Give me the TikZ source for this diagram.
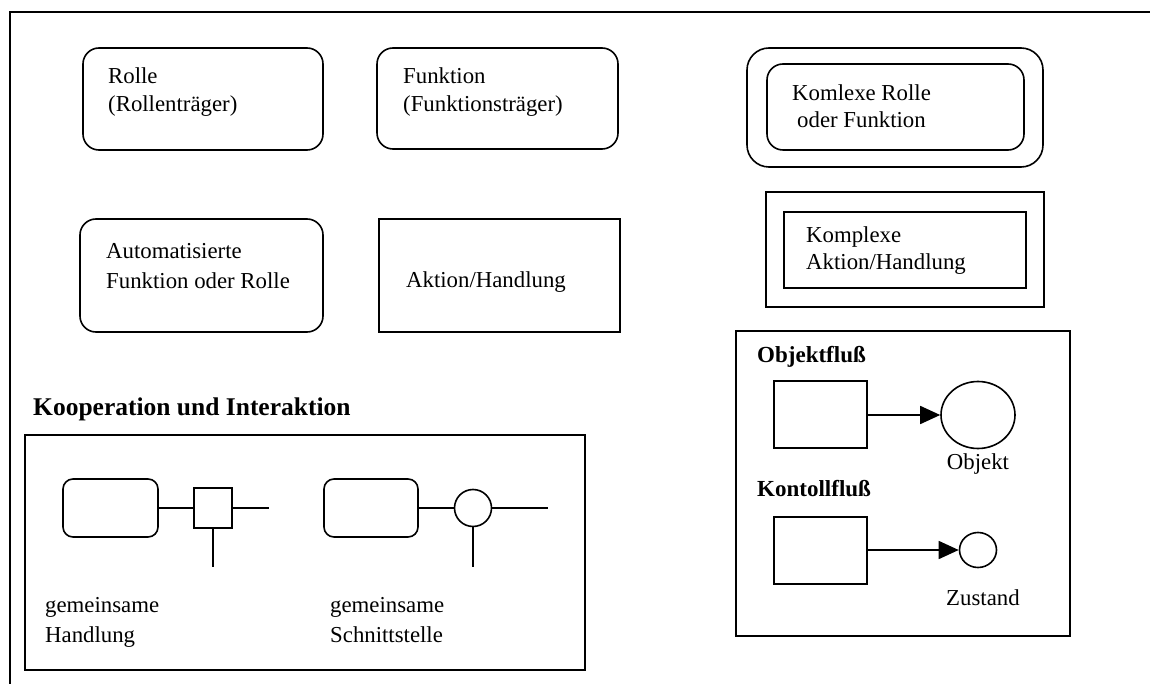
\documentclass[tikz,border=0pt]{standalone}
\usepackage{fontspec}
\setmainfont{Liberation Serif}
\usetikzlibrary{arrows.meta,shapes.geometric}
\tikzset{
  rbox/.style={draw, line width=1.6pt, rounded corners=16pt, inner sep=0pt},
  sbox/.style={draw, line width=1.6pt, inner sep=0pt},
  txt/.style={inner sep=0pt, anchor=base west, font=\fontsize{22.8}{28}\selectfont},
  hd/.style={inner sep=0pt, anchor=base west, font=\bfseries\fontsize{23}{28}\selectfont},
  conn/.style={line width=1.6pt},
  flow/.style={line width=1.6pt, -{Triangle[length=20pt,width=18pt]}},
  frame/.style={line width=1.8pt},
}
\begin{document}
\begin{tikzpicture}[x=1pt,y=-1pt]
\useasboundingbox (0,0) rectangle (1150,684);
% outer frame (top and left edges)
\draw[frame] (10,684) -- (10,12) -- (1150,12);

% first row
\node[rbox, minimum width=240pt, minimum height=102pt] (rolle) at (203,99) {};
\node[txt] (rolleA) at (108,84) {Rolle};
\node[txt] (rolleB) at (108,112) {(Rollenträger)};

\node[rbox, minimum width=241pt, minimum height=101pt] (funktion) at (497.5,98.5) {};
\node[txt] (funkA) at (403,84) {Funktion};
\node[txt] (funkB) at (403,112) {(Funktionsträger)};

\node[rbox, rounded corners=22pt, minimum width=296pt, minimum height=119pt] (krOuter) at (895,107.5) {};
\node[rbox, rounded corners=16pt, minimum width=257pt, minimum height=86pt] (krInner) at (895.5,107) {};
\node[txt] (krA) at (792,101) {Komlexe Rolle};
\node[txt] (krB) at (797,128) {oder Funktion};

% second row
\node[rbox, minimum width=243pt, minimum height=113pt] (auto) at (201.5,275.5) {};
\node[txt] (autoA) at (106,259) {Automatisierte};
\node[txt] (autoB) at (106,289) {Funktion oder Rolle};

\node[sbox, minimum width=241pt, minimum height=113pt] (aktion) at (499.5,275.5) {};
\node[txt] (aktionA) at (406,288) {Aktion/Handlung};

\node[sbox, minimum width=278pt, minimum height=115pt] (kaOuter) at (905,249.5) {};
\node[sbox, minimum width=242pt, minimum height=76pt] (kaInner) at (905,250) {};
\node[txt] (kaA) at (806,243) {Komplexe};
\node[txt] (kaB) at (806,270) {Aktion/Handlung};

% Kooperation und Interaktion
\node[hd, font=\bfseries\fontsize{25.5}{30}\selectfont] (koopHd) at (33,415) {Kooperation und Interaktion};
\node[sbox, minimum width=560pt, minimum height=235pt] (koop) at (305,552.5) {};

\node[rbox, rounded corners=10pt, minimum width=95pt, minimum height=58pt] (rb1) at (110.5,508) {};
\node[sbox, minimum width=38pt, minimum height=40pt] (sq) at (213,508) {};
\coordinate (sqR) at (269,508);
\coordinate (sqD) at (213,567);
\draw[conn] (rb1.east) -- (sq.west);
\draw[conn] (sq.east) -- (sqR);
\draw[conn] (sq.south) -- (sqD);

\node[rbox, rounded corners=10pt, minimum width=94pt, minimum height=58pt] (rb2) at (371,508) {};
\node[draw, circle, line width=1.6pt, inner sep=0pt, minimum size=37pt] (ci) at (473,508) {};
\coordinate (ciR) at (548,508);
\coordinate (ciD) at (473,567);
\draw[conn] (rb2.east) -- (ci.west);
\draw[conn] (ci.east) -- (ciR);
\draw[conn] (ci.south) -- (ciD);

\node[txt] (gemA) at (45,612) {gemeinsame};
\node[txt] (gemB) at (45,642) {Handlung};
\node[txt] (gemC) at (330,612) {gemeinsame};
\node[txt] (gemD) at (330,642) {Schnittstelle};

% Objektfluss / Kontrollfluss
\node[sbox, minimum width=334pt, minimum height=305pt] (flowbox) at (903,483.5) {};
\node[hd] (objHd) at (757,362) {Objektfluß};
\node[sbox, minimum width=93pt, minimum height=67pt] (r1) at (820.5,414.5) {};
\node[draw, ellipse, line width=1.6pt, inner sep=0pt, minimum width=74pt, minimum height=67pt] (o1) at (978,415) {};
\draw[flow] (r1.east |- o1.west) -- (o1.west);
\node[txt, anchor=base] (objLbl) at (978,469) {Objekt};

\node[hd] (konHd) at (757,496) {Kontollfluß};
\node[sbox, minimum width=93pt, minimum height=67pt] (r2) at (820.5,550.5) {};
\node[draw, ellipse, line width=1.6pt, inner sep=0pt, minimum width=37pt, minimum height=35pt] (z1) at (978,550) {};
\draw[flow] (r2.east |- z1.west) -- (z1.west);
\node[txt] (zusLbl) at (946,605) {Zustand};
\end{tikzpicture}
\end{document}
